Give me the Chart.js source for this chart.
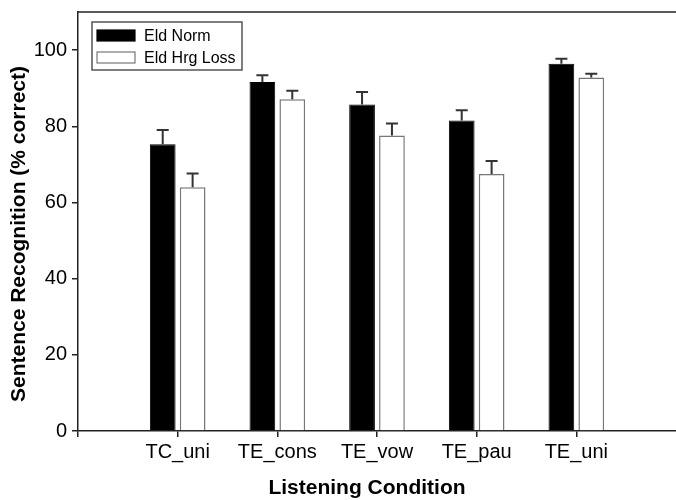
<!DOCTYPE html>
<html><head><meta charset="utf-8">
<script src="https://cdn.jsdelivr.net/npm/chart.js@4"></script>
<style>html,body{margin:0;padding:0;background:#fff}#wrap{width:676px;height:500px}</style>
</head><body><div id="wrap"><canvas id="c" width="676" height="500"></canvas></div>
<script>
// Sentence recognition by listening condition, two listener groups (mean + SE)
const categories = ['TC_uni', 'TE_cons', 'TE_vow', 'TE_pau', 'TE_uni'];
const seriesNames = ['Eld Norm', 'Eld Hrg Loss'];
const eldNorm = [75.3, 91.6, 85.7, 81.5, 96.4];
const eldNormErr = [3.7, 1.8, 3.3, 2.7, 1.3];
const eldHrgLoss = [64.0, 87.1, 77.6, 67.5, 92.8];
const eldHrgLossErr = [3.6, 2.2, 3.1, 3.4, 1.0];
const yTicks = [0, 20, 40, 60, 80, 100];
const yTitle = 'Sentence Recognition (% correct)';
const xTitle = 'Listening Condition';

const FONT = "'Liberation Sans', Arial, sans-serif";
const pad = arr => [null, ...arr, null];   // empty slot at each end of the x axis

const errorBars = {
  id: 'errorBars',
  afterDatasetsDraw(chart) {
    const ctx = chart.ctx, y = chart.scales.y;
    ctx.save();
    ctx.strokeStyle = '#333';
    ctx.lineWidth = 2;
    chart.data.datasets.forEach((ds, i) => {
      const meta = chart.getDatasetMeta(i);
      meta.data.forEach((el, j) => {
        const v = ds.data[j], e = ds.errors[j];
        if (v == null || e == null) return;
        const top = y.getPixelForValue(v + e);
        ctx.beginPath();
        ctx.moveTo(el.x, el.y);
        ctx.lineTo(el.x, top);
        ctx.moveTo(el.x - 6, top);
        ctx.lineTo(el.x + 6, top);
        ctx.stroke();
      });
    });
    ctx.restore();
  }
};

const frameAndText = {
  id: 'frameAndText',
  afterDraw(chart) {
    const ctx = chart.ctx, a = chart.chartArea;
    ctx.save();
    // top frame line
    ctx.strokeStyle = '#222';
    ctx.lineWidth = 1.5;
    ctx.beginPath();
    ctx.moveTo(a.left, a.top);
    ctx.lineTo(a.right, a.top);
    ctx.stroke();

    // legend box
    ctx.strokeStyle = '#555';
    ctx.lineWidth = 1.5;
    ctx.strokeRect(92, 22, 150, 48);
    ctx.font = '16px ' + FONT;
    ctx.textBaseline = 'middle';
    ctx.textAlign = 'left';
    chart.data.datasets.forEach((ds, i) => {
      const yy = 30 + i * 22;
      ctx.fillStyle = ds.backgroundColor;
      ctx.fillRect(97, yy, 38, 11);
      ctx.strokeStyle = ds.borderColor;
      ctx.lineWidth = 1.2;
      ctx.strokeRect(97, yy, 38, 11);
      ctx.fillStyle = '#000';
      ctx.fillText(ds.label, 144, yy + 6.5);
    });

    // axis titles
    ctx.fillStyle = '#000';
    ctx.font = 'bold 21px ' + FONT;
    ctx.textAlign = 'center';
    ctx.textBaseline = 'middle';
    ctx.fillText(xTitle, 367, 488);
    ctx.translate(19, 234);
    ctx.rotate(-Math.PI / 2);
    ctx.fillText(yTitle, 0, 0);
    ctx.restore();
  }
};

const axisLine = { display: true, color: '#222', width: 1.5 };
const tickMarks = { display: true, offset: false, drawOnChartArea: false, drawTicks: true, tickLength: 6, color: '#222', lineWidth: 1.5 };
const lastSlot = categories.length + 1;

new Chart(document.getElementById('c'), {
  type: 'bar',
  data: {
    labels: ['', ...categories, ''],
    datasets: [
      { label: seriesNames[0], data: pad(eldNorm), errors: pad(eldNormErr),
        backgroundColor: '#000', borderColor: '#000', borderWidth: 1 },
      { label: seriesNames[1], data: pad(eldHrgLoss), errors: pad(eldHrgLossErr),
        backgroundColor: '#fff', borderColor: '#777', borderWidth: 1.5 }
    ]
  },
  options: {
    responsive: false,
    devicePixelRatio: 1,
    animation: false,
    layout: { padding: { top: 12, left: 0, right: 0, bottom: 0 } },
    datasets: { bar: { categoryPercentage: 0.6, barPercentage: 0.86 } },
    plugins: { legend: { display: false }, tooltip: { enabled: false } },
    scales: {
      x: {
        type: 'category',
        offset: false,
        grid: { ...tickMarks, color: c => (c.index === lastSlot ? 'rgba(0,0,0,0)' : '#222') },
        border: axisLine,
        ticks: { color: '#000', font: { family: FONT, size: 20 }, padding: 3, maxRotation: 0, autoSkip: false },
        afterFit(s) { s.height = 69; s.paddingLeft = 0; s.paddingRight = 0; }
      },
      y: {
        min: 0, max: 110,
        grid: tickMarks,
        border: axisLine,
        ticks: { color: '#000', font: { family: FONT, size: 20 }, padding: 5 },
        afterBuildTicks(s) { s.ticks = yTicks.map(v => ({ value: v })); },
        afterFit(s) { s.width = 78; s.paddingTop = 0; s.paddingBottom = 0; }
      }
    }
  },
  plugins: [errorBars, frameAndText]
});
</script>
</body></html>
